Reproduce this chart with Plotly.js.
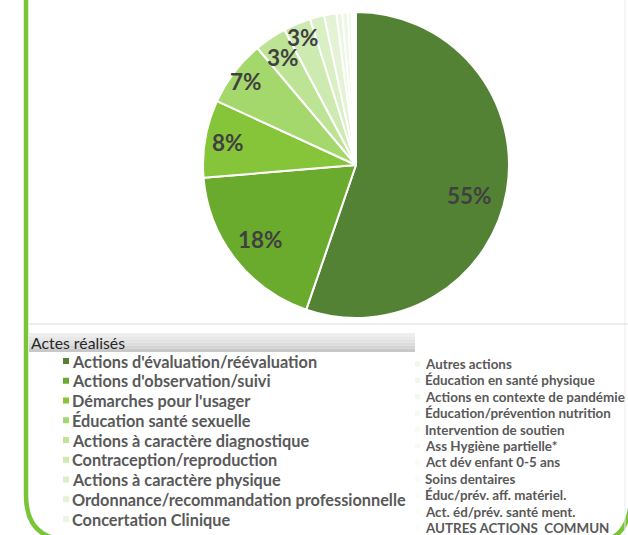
<!DOCTYPE html>
<html>
<head>
<meta charset="utf-8">
<script src="https://cdn.plot.ly/plotly-3.0.1.min.js"></script>
<style>html,body{margin:0;padding:0;background:#fff;}#chart{width:628px;height:535px;}</style>
</head>
<body>
<div id="chart"></div>
<script>
// ---- data ----
const categories = [
  "Actions d'évaluation/réévaluation",
  "Actions d'observation/suivi",
  "Démarches pour l'usager",
  "Éducation santé sexuelle",
  "Actions à caractère diagnostique",
  "Contraception/reproduction",
  "Actions à caractère physique",
  "Ordonnance/recommandation professionnelle",
  "Concertation Clinique",
  "Autres actions",
  "Éducation en santé physique",
  "Actions en contexte de pandémie",
  "Éducation/prévention nutrition",
  "Intervention de soutien",
  "Ass Hygiène partielle*",
  "Act dév enfant 0-5 ans",
  "Soins dentaires",
  "Éduc/prév. aff. matériel.",
  "Act. éd/prév. santé ment.",
  "AUTRES ACTIONS  COMMUN"
];
const values = [55.3, 18.4, 8.2, 7.0, 3.4, 2.9, 1.5, 1.3, 0.6, 0.6, 0.4,
                0.12, 0.08, 0.06, 0.05, 0.04, 0.03, 0.03, 0.02, 0.02];
const colors = ["#548235", "#6aab2e", "#86c43a", "#a4d86c", "#bde395", "#cdeab0",
                "#d9efc4", "#e3f3d4", "#eaf6df", "#eef8e6", "#f1f9ea", "#f3faed",
                "#f4faef", "#f5fbf1", "#f6fbf2", "#f7fcf4", "#f8fcf5", "#f9fdf7",
                "#fafdf8", "#fbfdf9"];
const legendTitle = "Actes réalisés";

// ---- styling / geometry ----
const W = 628, H = 535;
const CX = 356, CY = 165, R = 153;
const px = x => x / W, py = y => 1 - y / H;
const FONT = 'Lato, "Open Sans", sans-serif';
const labelRadius = [0.77, 0.79, 0.85, 0.9, 0.85, 0.9];   // fraction of pie radius
const labelAngleShift = [0.1, 0, 0, 0, 0, 0];              // radians

const total = values.reduce((a, b) => a + b, 0);
const annotations = [];
const shapes = [];

// slice labels, positioned from the cumulative values
let cum = 0;
values.forEach((v, i) => {
  const mid = (cum + v / 2) / total * 2 * Math.PI + (labelAngleShift[i] || 0);
  cum += v;
  if (v < 2.5) return;
  const k = labelRadius[i];
  annotations.push({
    x: px(CX + R * k * Math.sin(mid)), y: py(CY - R * k * Math.cos(mid)),
    xref: 'paper', yref: 'paper', showarrow: false,
    text: Math.round(v / total * 100) + '%',
    font: {family: FONT, size: 22.5, color: '#404040', weight: 'bold'},
    xanchor: 'center', yanchor: 'middle', borderpad: 0, borderwidth: 0
  });
});

// frame
shapes.push({type: 'path', xref: 'paper', yref: 'paper',
  path: `M ${px(26)},${py(-20)} L ${px(26)},${py(495)} Q ${px(26)},${py(540)} ${px(70)},${py(540)} ` +
        `L ${px(600)},${py(540)} Q ${px(632)},${py(540)} ${px(632)},${py(485)} L ${px(632)},${py(-20)}`,
  line: {color: '#78c536', width: 4.5}});
shapes.push({type: 'line', xref: 'paper', yref: 'paper', x0: px(625), x1: px(625), y0: py(0), y1: py(535),
  line: {color: '#ececec', width: 1}});
shapes.push({type: 'line', xref: 'paper', yref: 'paper', x0: px(29), x1: px(628), y0: py(324), y1: py(324),
  line: {color: '#dcdcdc', width: 1}});

// legend title bar (gradient simulated by strips)
const strips = ["#eeeeee", "#e8e8e8", "#e2e2e2", "#dcdcdc", "#d4d4d4", "#c8c8c8"];
strips.forEach((c, i) => {
  const y0 = 333 + i * 19 / strips.length, y1 = 333 + (i + 1) * 19 / strips.length;
  shapes.push({type: 'rect', xref: 'paper', yref: 'paper', x0: px(29), x1: px(415),
    y0: py(y0), y1: py(y1), fillcolor: c, line: {width: 0}});
});
annotations.push({x: px(29), y: py(342), xref: 'paper', yref: 'paper', showarrow: false,
  text: legendTitle, xanchor: 'left', yanchor: 'middle',
  font: {family: FONT, size: 15.8, color: '#262626'}});

// legend entries
categories.forEach((c, i) => {
  const col1 = i < 9;
  const j = col1 ? i : i - 9;
  const y = col1 ? 361 + j * 19.75 : 364 + j * 16.4;
  const sx = col1 ? 63 : 415, s = col1 ? 6 : 5;
  const tx = col1 ? 71 : 424;
  shapes.push({type: 'rect', xref: 'paper', yref: 'paper', x0: px(sx), x1: px(sx + s),
    y0: py(y - s / 2), y1: py(y + s / 2), fillcolor: colors[i], line: {width: 0}});
  annotations.push({x: px(tx), y: py(y), xref: 'paper', yref: 'paper', showarrow: false,
    text: c, xanchor: 'left', yanchor: 'middle', borderpad: 0,
    font: {family: FONT, size: col1 ? 16.3 : 13.4, color: '#595959', weight: 'bold'}});
});

const trace = {
  type: 'pie', labels: categories, values: values, sort: false, direction: 'clockwise', rotation: 0,
  marker: {colors: colors, line: {color: '#ffffff', width: 2}},
  textinfo: 'none', hoverinfo: 'label+percent', showlegend: false,
  domain: {x: [px(CX - R), px(CX + R)], y: [py(CY + R), py(CY - R)]}
};

Plotly.newPlot('chart', [trace], {
  width: W, height: H, margin: {l: 0, r: 0, t: 0, b: 0},
  paper_bgcolor: '#ffffff', showlegend: false,
  annotations: annotations, shapes: shapes
}, {displayModeBar: false, staticPlot: true});
</script>
</body>
</html>
